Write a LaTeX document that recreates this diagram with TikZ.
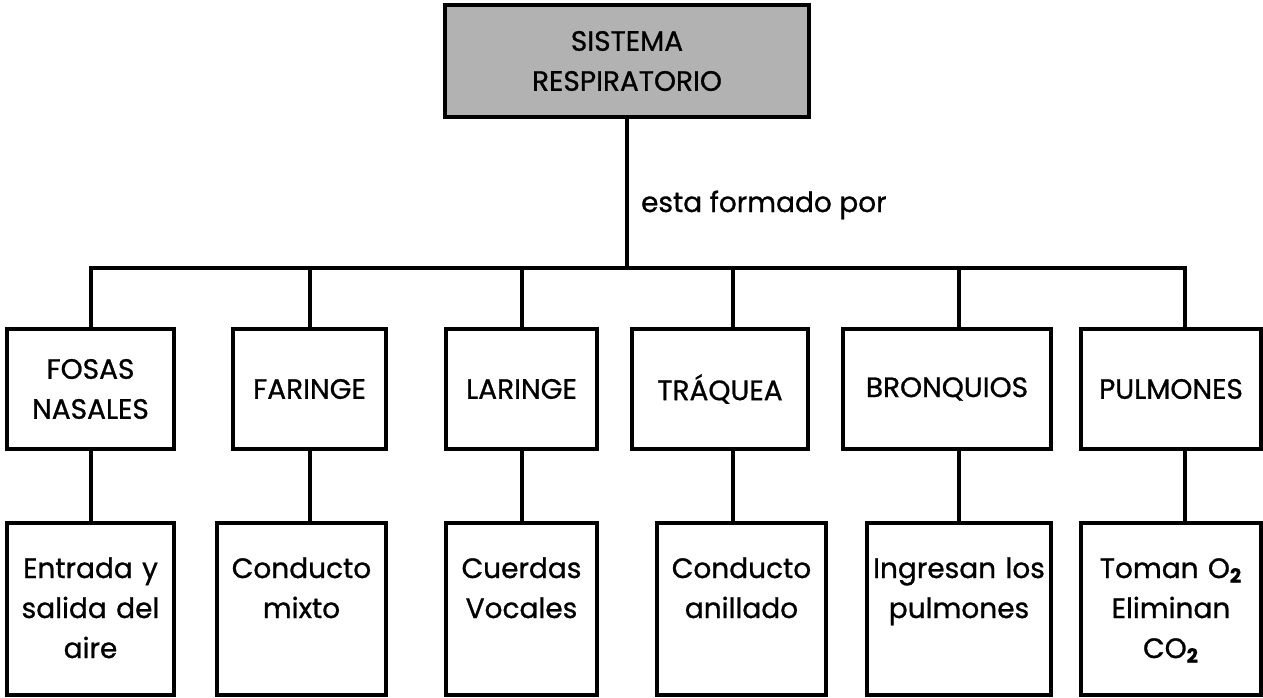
\documentclass[tikz,border=0pt]{standalone}
\usepackage{fontspec}
\setmainfont{Poppins}[FakeBold=0.9]
\usetikzlibrary{shapes, calc, positioning}
\definecolor{grisbox}{RGB}{178,178,178}
\tikzstyle{line} = [draw, line width=2pt, line cap=rect]
\tikzstyle{block} = [rectangle, draw, line width=2pt, fill=white, text centered, align=center, inner sep=0pt, font=\fontsize{14}{20}\selectfont]
\tikzstyle{root} = [block, fill=grisbox, minimum width=182pt, minimum height=56pt]
\tikzstyle{organ} = [block, minimum height=60pt]
\tikzstyle{task} = [block, text height=27.5pt, text depth=58.5pt]
\newcommand{\sub}[1]{\textsubscript{\textbf{#1}}}

\begin{document}
\begin{tikzpicture}[x=0.5pt, y=-0.5pt]
\useasboundingbox (0,0) rectangle (1263,697);
\node [root] (sistema) at (627,61) {SISTEMA\\RESPIRATORIO};
\node [anchor=base west, font=\fontsize{14}{20}\selectfont] (formado) at (634,212) {esta formado por};
% organos
\node [organ, minimum width=83.5pt] (fosas) at (90.5,389) {FOSAS\\NASALES};
\node [organ, minimum width=76.5pt] (faringe) at (309.5,389) {FARINGE};
\node [organ, minimum width=75.5pt] (laringe) at (521.5,389) {LARINGE};
\node [organ, minimum width=88pt] (traquea) at (720,389) {TRÁQUEA};
\node [organ, minimum width=104pt] (bronquios) at (947,389) {BRONQUIOS};
\node [organ, minimum width=90pt] (pulmones) at (1171,389) {PULMONES};
% funciones
\node [task, text width=83.5pt] (entrada) at (90.5,609) {Entrada y\\salida del\\aire};
\node [task, text width=84.5pt] (mixto) at (301.5,609) {Conducto\\mixto};
\node [task, text width=75.5pt] (cuerdas) at (521.5,609) {Cuerdas\\Vocales};
\node [task, text width=84.5pt] (anillado) at (741.5,609) {Conducto\\anillado};
\node [task, text width=92pt] (ingresan) at (959,609) {Ingresan los\\pulmones};
\node [task, text width=90pt] (toman) at (1171,609) {Toman O\sub{2}\\Eliminan\\CO\sub{2}};
% barra
\coordinate (b1) at (91,268);
\coordinate (b2) at (310,268);
\coordinate (b3) at (522,268);
\coordinate (b4) at (733,268);
\coordinate (b5) at (959,268);
\coordinate (b6) at (1185,268);
\path [line] (sistema.south) -- (sistema.south |- b1);
\path [line] (b1) -- (b6);
\path [line] (b1) -- (b1 |- fosas.north);
\path [line] (b2) -- (b2 |- faringe.north);
\path [line] (b3) -- (b3 |- laringe.north);
\path [line] (b4) -- (b4 |- traquea.north);
\path [line] (b5) -- (b5 |- bronquios.north);
\path [line] (b6) -- (b6 |- pulmones.north);
\path [line] (b1 |- fosas.south) -- (b1 |- entrada.north);
\path [line] (b2 |- faringe.south) -- (b2 |- mixto.north);
\path [line] (b3 |- laringe.south) -- (b3 |- cuerdas.north);
\path [line] (b4 |- traquea.south) -- (b4 |- anillado.north);
\path [line] (b5 |- bronquios.south) -- (b5 |- ingresan.north);
\path [line] (b6 |- pulmones.south) -- (b6 |- toman.north);
\end{tikzpicture}
\end{document}
